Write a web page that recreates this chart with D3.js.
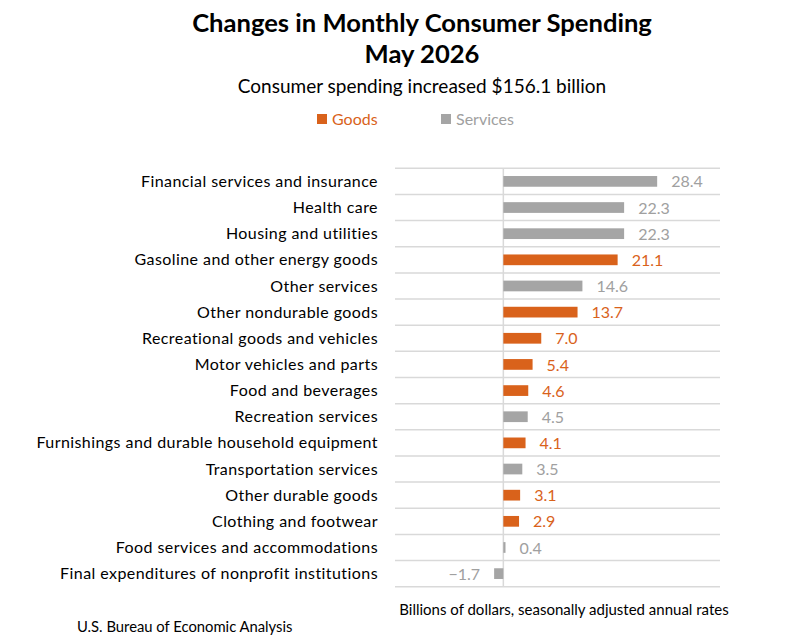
<!DOCTYPE html>
<html>
<head>
  <meta charset="utf-8">
  <script src="https://cdn.jsdelivr.net/npm/d3@7"></script>
  <style>
    body { margin: 0; background: #fff; }
    svg { font-family: Lato, "Open Sans", sans-serif; }
  </style>
</head>
<body>
<script>
  // categories, top to bottom
  var categories = [
    "Financial services and insurance",
    "Health care",
    "Housing and utilities",
    "Gasoline and other energy goods",
    "Other services",
    "Other nondurable goods",
    "Recreational goods and vehicles",
    "Motor vehicles and parts",
    "Food and beverages",
    "Recreation services",
    "Furnishings and durable household equipment",
    "Transportation services",
    "Other durable goods",
    "Clothing and footwear",
    "Food services and accommodations",
    "Final expenditures of nonprofit institutions"
  ];
  var values = [28.4, 22.3, 22.3, 21.1, 14.6, 13.7, 7.0, 5.4, 4.6, 4.5, 4.1, 3.5, 3.1, 2.9, 0.4, -1.7];
  var kinds = ["Services", "Services", "Services", "Goods", "Services", "Goods", "Goods", "Goods",
               "Goods", "Services", "Goods", "Services", "Goods", "Goods", "Services", "Services"];
  var seriesNames = ["Goods", "Services"];

  var colors = { Goods: "#d9621b", Services: "#a5a5a5" };
  var labelColors = { Goods: "#d9621b", Services: "#a0a0a0" };

  var data = categories.map(function(c, i) {
    return { name: c, value: values[i], kind: kinds[i] };
  });

  var width = 793, height = 642;
  var svg = d3.select("body").append("svg")
    .attr("width", width).attr("height", height);

  // titles
  svg.append("text").attr("x", 422).attr("y", 32).attr("text-anchor", "middle")
    .attr("font-size", 25.6).attr("font-weight", "bold").attr("fill", "#000")
    .text("Changes in Monthly Consumer Spending");
  svg.append("text").attr("x", 422).attr("y", 63).attr("text-anchor", "middle")
    .attr("font-size", 25.6).attr("font-weight", "bold").attr("fill", "#000")
    .text("May 2026");
  svg.append("text").attr("x", 422).attr("y", 93).attr("text-anchor", "middle")
    .attr("font-size", 19).attr("fill", "#000")
    .text("Consumer spending increased $156.1 billion");

  // legend
  var legend = svg.selectAll(".legend").data(seriesNames).enter().append("g")
    .attr("transform", function(d, i) { return "translate(" + (317 + i * 124) + ",114)"; });
  legend.append("rect").attr("width", 10).attr("height", 10)
    .attr("fill", function(d) { return colors[d]; });
  legend.append("text").attr("x", 15).attr("y", 11)
    .attr("font-size", 16).attr("fill", function(d) { return labelColors[d]; })
    .text(function(d) { return d; });

  // scales
  var x = d3.scaleLinear().domain([-20, 40]).range([395, 720]);
  var y = d3.scaleBand().domain(categories).range([168.3, 586.7])
    .paddingInner(0.59).paddingOuter(0.295);

  var step = y.step();
  var gridYs = categories.map(function(c) { return y(c) - step * 0.295; });
  gridYs.push(586.7);

  svg.selectAll(".grid").data(gridYs).enter().append("line")
    .attr("x1", x(-20)).attr("x2", x(40))
    .attr("y1", function(d) { return d; }).attr("y2", function(d) { return d; })
    .attr("stroke", "#d9d9d9").attr("stroke-width", 1.5);

  svg.append("line")
    .attr("x1", x(0)).attr("x2", x(0)).attr("y1", 168.3).attr("y2", 586.7)
    .attr("stroke", "#d9d9d9").attr("stroke-width", 1.5);

  // category labels
  svg.selectAll(".cat").data(data).enter().append("text")
    .attr("x", 378)
    .attr("y", function(d) { return y(d.name) + y.bandwidth() / 2; })
    .attr("dy", "0.35em")
    .attr("text-anchor", "end")
    .attr("font-size", 16).attr("letter-spacing", 0.43).attr("fill", "#000")
    .text(function(d) { return d.name; });

  // bars
  svg.selectAll(".bar").data(data).enter().append("rect")
    .attr("x", function(d) { return x(Math.min(0, d.value)); })
    .attr("y", function(d) { return y(d.name); })
    .attr("width", function(d) { return Math.abs(x(d.value) - x(0)); })
    .attr("height", y.bandwidth())
    .attr("fill", function(d) { return colors[d.kind]; });

  // value labels
  svg.selectAll(".val").data(data).enter().append("text")
    .attr("x", function(d) { return d.value >= 0 ? x(d.value) + 14 : x(d.value) - 14; })
    .attr("y", function(d) { return y(d.name) + y.bandwidth() / 2; })
    .attr("dy", "0.38em")
    .attr("text-anchor", function(d) { return d.value >= 0 ? "start" : "end"; })
    .attr("font-size", 16)
    .attr("fill", function(d) { return labelColors[d.kind]; })
    .text(function(d) { return d.value < 0 ? "\u2212" + Math.abs(d.value).toFixed(1) : d.value.toFixed(1); });

  // footer
  svg.append("text").attr("x", 564).attr("y", 615).attr("text-anchor", "middle")
    .attr("font-size", 15).attr("fill", "#000")
    .text("Billions of dollars, seasonally adjusted annual rates");
  svg.append("text").attr("x", 77).attr("y", 632)
    .attr("font-size", 14.8).attr("fill", "#000")
    .text("U.S. Bureau of Economic Analysis");
</script>
</body>
</html>
